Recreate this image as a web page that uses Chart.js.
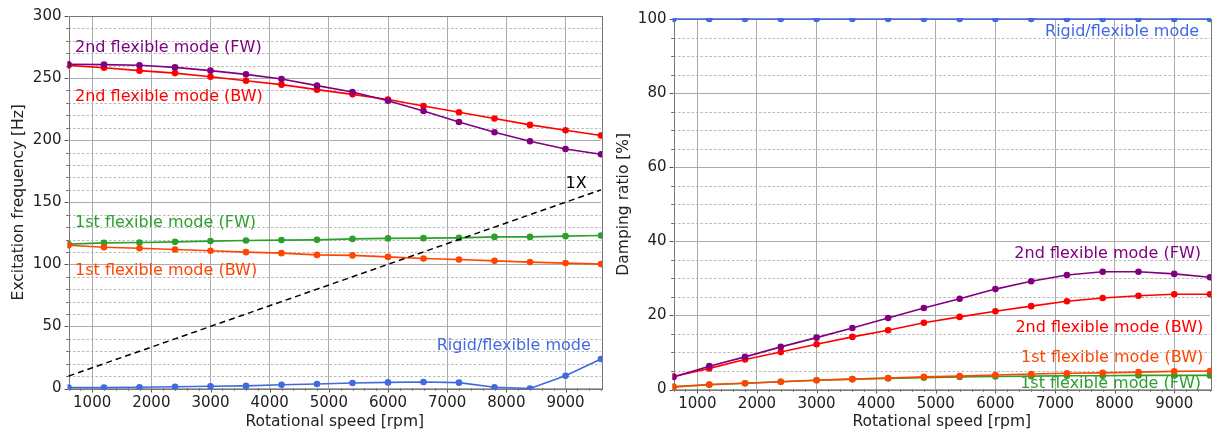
<!DOCTYPE html>
<html>
<head>
<meta charset="utf-8">
<script src="https://cdn.jsdelivr.net/npm/chart.js@4.4.1/dist/chart.umd.min.js"></script>
<style>
  html,body{margin:0;padding:0;background:#fff}
  #wrap{position:relative;width:1214px;height:435px}
  canvas{position:absolute;top:0}
  #freqCanvas{left:0}
  #dampCanvas{left:607px}
</style>
</head>
<body>
<div id="wrap">
  <canvas id="freqCanvas" width="607" height="435"></canvas>
  <canvas id="dampCanvas" width="607" height="435"></canvas>
</div>
<script>
/* ------------ data ------------ */
const RPM        = [600,1200,1800,2400,3000,3600,4200,4800,5400,6000,6600,7200,7800,8400,9000,9600];
const X_TICKS    = [1000,2000,3000,4000,5000,6000,7000,8000,9000];
const FREQ_TICKS = [0,50,100,150,200,250,300];
const DAMP_TICKS = [0,20,40,60,80,100];

// excitation frequency [Hz]
const FREQ_2ND_FW = [261.1,260.8,260.3,258.6,256.0,253.0,249.2,243.9,238.8,231.7,223.5,214.6,206.4,199.1,192.9,188.7];
const FREQ_2ND_BW = [260.2,258.3,256.0,254.0,251.1,247.9,244.7,240.7,236.9,232.7,227.5,222.5,217.4,212.3,208.0,203.7];
const FREQ_1ST_FW = [116.3,117.3,117.6,118.1,118.7,119.2,119.5,119.7,120.5,120.9,121.1,121.3,122.1,122.1,122.7,123.2];
const FREQ_1ST_BW = [115.4,113.8,113.0,112.0,110.9,109.8,109.0,107.6,107.2,106.0,104.7,103.9,102.8,101.8,101.0,100.2];
const FREQ_RIGID  = [0.8,0.7,1.0,1.4,1.8,2.1,3.0,3.6,4.4,4.9,5.2,4.7,1.0,0.0,10.3,23.7];
const FREQ_1X     = [10,20,30,40,50,60,70,80,90,100,110,120,130,140,150,160];

// damping ratio [%]
const DAMP_2ND_FW = [3.4,6.3,8.8,11.5,14.0,16.6,19.3,22.0,24.5,27.1,29.2,30.9,31.8,31.8,31.2,30.3];
const DAMP_2ND_BW = [3.5,5.7,8.1,10.1,12.2,14.2,16.0,18.0,19.6,21.1,22.5,23.8,24.7,25.3,25.7,25.7];
const DAMP_1ST_BW = [0.7,1.35,1.7,2.1,2.5,2.8,3.1,3.4,3.6,3.9,4.2,4.4,4.5,4.7,4.9,5.0];
const DAMP_1ST_FW = [0.7,1.3,1.7,2.1,2.5,2.8,3.0,3.2,3.4,3.5,3.6,3.7,3.7,3.8,3.8,3.8];
const DAMP_RIGID  = [100,100,100,100,100,100,100,100,100,100,100,100,100,100,100,100];

/* ------------ style ------------ */
const C = {fw2:'#800080', bw2:'#ff0000', fw1:'#2ca02c', bw1:'#ff4500', rigid:'#4169e1', one:'#000'};
const FONT = '"DejaVu Sans", sans-serif';

const xy = arr => RPM.map((x,i)=>({x, y:arr[i]}));
// markers and lines are cut at the plot frame
const series = (arr,color,extra={}) => Object.assign({
  data:xy(arr), borderColor:color, backgroundColor:color, borderWidth:1.6,
  pointRadius:3.3, pointHoverRadius:3.3, pointBorderWidth:0, tension:0, clip:1
}, extra);

/* ------------ minor grid, ticks, frame, labels ------------ */
const decor = {
  id:'decor',
  beforeDatasetsDraw(chart, args, o){
    const {ctx, chartArea:a, scales:{x,y}} = chart;
    ctx.save();
    ctx.lineWidth = 1;
    // dashed minor grid
    ctx.strokeStyle = '#b8b8b8'; ctx.setLineDash([2.5,2]);
    for(let v=o.yMinor; v<o.yMax; v+=o.yMinor){
      if(v % o.yMajor === 0) continue;
      const py = Math.round(y.getPixelForValue(v))+.5;
      ctx.beginPath(); ctx.moveTo(a.left,py); ctx.lineTo(a.right,py); ctx.stroke();
    }
    ctx.setLineDash([]);
    // tick marks
    ctx.strokeStyle = '#555';
    const tick = (x0,y0,x1,y1)=>{ctx.beginPath();ctx.moveTo(x0,y0);ctx.lineTo(x1,y1);ctx.stroke();};
    for(let v=600; v<=9600; v+=200){
      const px = Math.round(x.getPixelForValue(v))+.5;
      tick(px, a.bottom, px, a.bottom + (v % 1000 === 0 ? 4 : 2.2));
    }
    for(let v=0; v<=o.yMax; v+=o.yMinor){
      const py = Math.round(y.getPixelForValue(v))+.5;
      tick(a.left, py, a.left - (v % o.yMajor === 0 ? 4 : 2.2), py);
    }
    // frame
    ctx.strokeStyle = '#777';
    ctx.strokeRect(Math.round(a.left)+.5, Math.round(a.top)+.5, Math.round(a.right-a.left), Math.round(a.bottom-a.top));
    ctx.restore();
  },
  afterDatasetsDraw(chart, args, o){
    const {ctx, scales:{x,y}} = chart;
    ctx.save();
    ctx.font = `16px ${FONT}`;
    ctx.textBaseline = 'middle';
    o.labels.forEach(l=>{
      ctx.fillStyle = l.color; ctx.textAlign = l.align;
      ctx.fillText(l.text, x.getPixelForValue(l.x), y.getPixelForValue(l.y));
    });
    ctx.restore();
  }
};

function axes(yTicks, yMax, yTitle, yWidth, xHeight, yTitlePad){
  const tickFont = {family:FONT, size:15};
  const titleFont = {family:FONT, size:15.5};
  return {
    x:{
      type:'linear', min:600, max:9600,
      afterBuildTicks:s=>{s.ticks = X_TICKS.map(v=>({value:v}));},
      afterFit:s=>{s.height = xHeight;},
      ticks:{font:tickFont, color:'#222', padding:6, autoSkip:false, maxRotation:0, callback:v=>String(v)},
      grid:{color:'#ababab', lineWidth:1, drawTicks:false},
      border:{display:false},
      title:{display:true, text:'Rotational speed [rpm]', font:titleFont, color:'#222', padding:{top:0,bottom:4}}
    },
    y:{
      min:0, max:yMax,
      afterBuildTicks:s=>{s.ticks = yTicks.map(v=>({value:v}));},
      afterFit:s=>{s.width = yWidth;},
      ticks:{font:tickFont, color:'#222', padding:7, autoSkip:false, callback:v=>String(v)},
      grid:{color:'#ababab', lineWidth:1, drawTicks:false},
      border:{display:false},
      title:{display:true, text:yTitle, font:titleFont, color:'#222', padding:{top:yTitlePad,bottom:0}}
    }
  };
}

const common = {
  responsive:false, animation:false, events:[],
  plugins:{legend:{display:false}, tooltip:{enabled:false}}
};

/* ------------ excitation frequency ------------ */
new Chart(document.getElementById('freqCanvas'), {
  type:'line',
  data:{datasets:[
    series(FREQ_1X, C.one, {pointRadius:0, borderWidth:1.5, borderDash:[6,4]}),
    series(FREQ_2ND_FW, C.fw2),
    series(FREQ_2ND_BW, C.bw2),
    series(FREQ_1ST_BW, C.bw1),
    series(FREQ_1ST_FW, C.fw1),
    series(FREQ_RIGID, C.rigid)
  ]},
  options:Object.assign({}, common, {
    layout:{padding:{left:0, right:6, top:15.5, bottom:0}},
    scales:axes(FREQ_TICKS, 300, 'Excitation frequency [Hz]', 68.5, 46.5, 10),
    plugins:Object.assign({}, common.plugins, {decor:{
      yMinor:10, yMajor:50, yMax:300,
      labels:[
        {text:'2nd flexible mode (FW)', color:C.fw2,   x:710,  y:274.7, align:'left'},
        {text:'2nd flexible mode (BW)', color:C.bw2,   x:710,  y:234.5, align:'left'},
        {text:'1st flexible mode (FW)', color:C.fw1,   x:710,  y:133.7, align:'left'},
        {text:'1st flexible mode (BW)', color:C.bw1,   x:710,  y:94.5,  align:'left'},
        {text:'Rigid/flexible mode',    color:C.rigid, x:9428, y:34.2,  align:'right'},
        {text:'1X',                     color:C.one,   x:9000, y:164.5, align:'left'}
      ]
    }})
  }),
  plugins:[decor]
});

/* ------------ damping ratio ------------ */
new Chart(document.getElementById('dampCanvas'), {
  type:'line',
  data:{datasets:[
    series(DAMP_2ND_FW, C.fw2),
    series(DAMP_2ND_BW, C.bw2),
    series(DAMP_1ST_BW, C.bw1),
    series(DAMP_1ST_FW, C.fw1),
    series(DAMP_RIGID, C.rigid)
  ]},
  options:Object.assign({}, common, {
    layout:{padding:{left:0, right:4, top:19, bottom:0}},
    scales:axes(DAMP_TICKS, 100, 'Damping ratio [%]', 66.5, 45.5, 7.5),
    plugins:Object.assign({}, common.plugins, {decor:{
      yMinor:5, yMajor:20, yMax:100,
      labels:[
        {text:'Rigid/flexible mode',    color:C.rigid, x:9419, y:96.5, align:'right'},
        {text:'2nd flexible mode (FW)', color:C.fw2,   x:9448, y:36.7, align:'right'},
        {text:'2nd flexible mode (BW)', color:C.bw2,   x:9486, y:16.6, align:'right'},
        {text:'1st flexible mode (BW)', color:C.bw1,   x:9486, y:8.5,  align:'right'},
        {text:'1st flexible mode (FW)', color:C.fw1,   x:9450, y:1.6,  align:'right'}
      ]
    }})
  }),
  plugins:[decor]
});
</script>
</body>
</html>
